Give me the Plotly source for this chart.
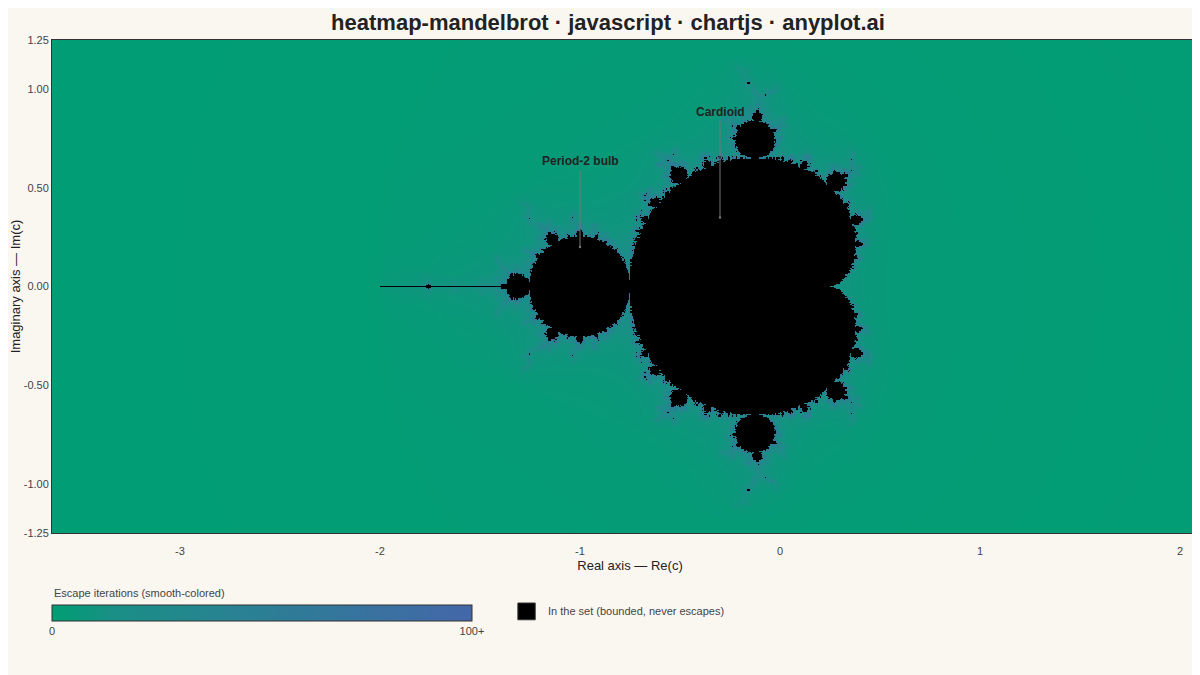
import numpy as np
import plotly.graph_objects as go

# Grid definition for the complex plane (what the chart shows)
re_min, re_max = -3.64, 2.14
im_min, im_max = -1.25, 1.25
n_re, n_im = 1001, 431
max_iter = 100

x_ticks = [-3, -2, -1, 0, 1, 2]
x_tick_text = ["-3", "-2", "-1", "0", "1", "2"]
y_ticks = [-1.25, -1.0, -0.5, 0.0, 0.5, 1.0, 1.25]
y_tick_text = ["-1.25", "-1.00", "-0.50", "0.00", "0.50", "1.00", "1.25"]

labels = ["Cardioid", "Period-2 bulb"]
label_pts_re = [-0.30, -1.0]
label_pts_im = [0.35, 0.20]
label_txt_im = [0.84, 0.59]

# Escape-time computation
re = np.linspace(re_min, re_max, n_re)
im = np.linspace(im_min, im_max, n_im)
im[n_im // 2] = 0.0
C = re[None, :] + 1j * im[:, None]
Z = np.zeros_like(C)
esc = np.full(C.shape, np.nan)
alive = np.ones(C.shape, bool)
for i in range(max_iter):
    Z[alive] = Z[alive] ** 2 + C[alive]
    out = alive & (np.abs(Z) > 2)
    az = np.abs(Z[out])
    esc[out] = i + 1 - np.log(np.log(np.maximum(az, 2.0001))) / np.log(2)
    alive &= ~out
esc = np.clip(esc, 0, max_iter)

fig = go.Figure(go.Heatmap(
    x=re, y=im, z=esc, zmin=0, zmax=max_iter,
    colorscale=[[0, "#009E73"], [0.15, "#1a8f86"], [1, "#4467A9"]],
    hoverinfo="skip",
    colorbar=dict(orientation="h", x=0, xanchor="left", y=-0.126, yanchor="top",
                  xpad=0, lenmode="pixels", len=420, thickness=16, outlinewidth=1,
                  outlinecolor="#333", tickvals=[0, max_iter], ticktext=["0", "100+"],
                  ticks="", tickfont=dict(size=11, color="#444")),
))

for t, px_, py_, ty in zip(labels, label_pts_re, label_pts_im, label_txt_im):
    fig.add_annotation(x=px_, y=py_, ax=px_, ay=ty, axref="x", ayref="y",
                       text="<b>" + t + "</b>", showarrow=True, arrowhead=6,
                       arrowsize=0.6, arrowwidth=1, arrowcolor="#777",
                       yanchor="bottom", font=dict(size=12, color="#222"))

fig.add_annotation(xref="paper", yref="paper", x=0, y=-0.138, xanchor="left",
                   text="Escape iterations (smooth-colored)", showarrow=False,
                   font=dict(size=11, color="#444"))
fig.add_shape(type="rect", xref="paper", yref="paper", x0=0.403, x1=0.418,
              y0=-0.142, y1=-0.176, fillcolor="black", line=dict(color="#333", width=1))
fig.add_annotation(xref="paper", yref="paper", x=0.427, y=-0.175, xanchor="left",
                   text="In the set (bounded, never escapes)", showarrow=False,
                   font=dict(size=11, color="#444"))

fig.update_layout(
    width=1200, height=675, margin=dict(l=44, r=0, t=32, b=150),
    paper_bgcolor="#FAF7F1", plot_bgcolor="black",
    font=dict(family="Liberation Sans, Arial, sans-serif", color="#333"),
    title=dict(text="<b>heatmap-mandelbrot · javascript · chartjs · anyplot.ai</b>",
               x=0.5, y=0.99, yanchor="top", font=dict(size=22, color="#222")),
)
fig.update_xaxes(range=[re_min, re_max], tickvals=x_ticks, ticktext=x_tick_text,
                 showgrid=False, zeroline=False,
                 ticks="", ticklabelstandoff=8, tickfont=dict(size=11, color="#444"),
                 title=dict(text="Real axis — Re(c)", font=dict(size=13, color="#222"),
                            standoff=4),
                 showline=True, linecolor="#333", mirror=True)
fig.update_yaxes(range=[im_min, im_max], tickvals=y_ticks, ticktext=y_tick_text,
                 showgrid=False, zeroline=False, ticks="", tickfont=dict(size=11, color="#444"),
                 title=dict(text="Imaginary axis — Im(c)", font=dict(size=13, color="#222"),
                            standoff=6),
                 showline=True, linecolor="#333", mirror=True)

fig.write_html("out.html")
